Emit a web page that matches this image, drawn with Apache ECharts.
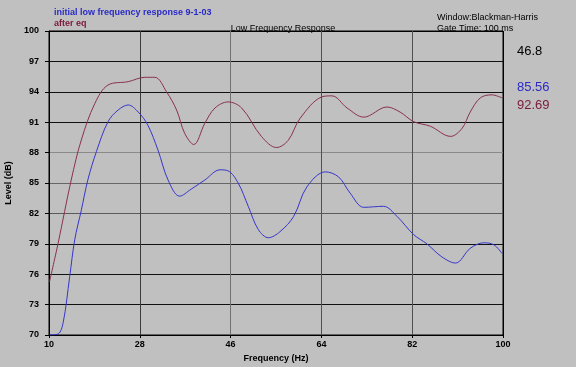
<!DOCTYPE html>
<html><head><meta charset="utf-8">
<script src="https://cdn.jsdelivr.net/npm/echarts@6/dist/echarts.min.js"></script>
<style>html,body{margin:0;padding:0;background:#c0c0c0;}#c{width:576px;height:367px;}</style>
</head><body><div id="c"></div>
<script>
// Frequencies (Hz) and levels (dB)
const freqInitial = [10.1,11.8,12.8,14.1,15.1,16.4,17.7,19.4,21.7,23.7,25.7,27.7,29.6,31.6,33.6,35.9,38.2,40.9,43.9,45.5,47.5,49.5,51.5,53.5,55.8,58.5,61.1,64.8,67.4,69.7,72.4,76.3,79,82.3,84.9,87.9,90.6,93.5,96.2,98.2,99.8];
const levelInitial = [70,70.1,71.2,75.75,79.4,82.3,85.3,88.1,91.05,92.2,92.7,92.0,90.7,88.25,85.3,83.7,84.4,85.3,86.3,86.2,85.0,82.7,80.4,79.6,80.2,81.7,84.6,86.1,85.6,84.0,82.6,82.7,81.7,79.9,79.0,77.7,77.1,78.55,79.1,78.9,78.05];
const freqEq = [10.1,11.8,14.4,16.4,19.1,21.7,25.7,29,31,33.3,35.3,36.9,38.7,40.9,42.9,45.5,48.2,52.1,55.1,57.4,59.8,64.1,66.1,69.1,72.4,77,79.6,82.3,85.6,89.6,91.9,93.5,95.5,97.8,99.8];
const levelEq = [75.25,79.04,85.29,89.24,92.86,94.67,95.0,95.43,95.43,94.0,92.2,89.9,88.8,90.9,92.4,93.0,92.4,89.6,88.5,89.2,91.4,93.5,93.6,92.4,91.5,92.5,92.0,91.05,90.6,89.6,90.4,92.0,93.4,93.7,93.4];
const xTicks = [10,28,46,64,82,100];
const yTicks = [70,73,76,79,82,85,88,91,94,97,100];
const seriesNames = ['initial low frequency response 9-1-03','after eq'];
const readouts = ['46.8','85.56','92.69'];

const X0 = xTicks[0];
const pairs = (f, l) => f.map((v, i) => [v - X0, l[i]]);
const font = 'Arial, "Liberation Sans", sans-serif';
const chart = echarts.init(document.getElementById('c'));
chart.setOption({
  backgroundColor: '#c0c0c0',
  animation: false,
  grid: {left: 49, right: 73, top: 31, bottom: 32, outerBoundsMode: 'none', containLabel: false, show: true, borderColor: '#000', borderWidth: 1, backgroundColor: '#c0c0c0'},
  title: [
    {text: seriesNames[0], left: 49, top: 3, textStyle: {fontFamily: font, fontSize: 9, fontWeight: 'bold', color: '#2a2ac8'}},
    {text: seriesNames[1], left: 49, top: 14, textStyle: {fontFamily: font, fontSize: 9, fontWeight: 'bold', color: '#7a1a3a'}},
    {text: 'Low Frequency Response', left: 278, top: 19, textAlign: 'center', textStyle: {fontFamily: font, fontSize: 9, fontWeight: 'normal', color: '#000'}},
    {text: 'Window:Blackman-Harris', left: 432, top: 8, textStyle: {fontFamily: font, fontSize: 9, fontWeight: 'normal', color: '#000'}},
    {text: 'Gate Time: 100 ms', left: 432, top: 19, textStyle: {fontFamily: font, fontSize: 9, fontWeight: 'normal', color: '#000'}},
    {text: readouts[0], left: 512, top: 40, textStyle: {fontFamily: font, fontSize: 13, fontWeight: 'normal', color: '#000'}},
    {text: readouts[1], left: 512, top: 76, textStyle: {fontFamily: font, fontSize: 13, fontWeight: 'normal', color: '#2a2ac8'}},
    {text: readouts[2], left: 512, top: 94, textStyle: {fontFamily: font, fontSize: 13, fontWeight: 'normal', color: '#7a1a3a'}}
  ],
  xAxis: {
    type: 'value', min: 0, max: xTicks[xTicks.length-1] - X0, interval: xTicks[1] - xTicks[0],
    name: 'Frequency (Hz)', nameLocation: 'middle', nameGap: 17,
    nameTextStyle: {fontFamily: font, fontSize: 9, fontWeight: 'bold', color: '#000'},
    axisLine: {lineStyle: {color: '#000'}},
    axisTick: {show: true, inside: false, length: 3, lineStyle: {color: '#000'}},
    axisLabel: {formatter: v => String(v + X0), fontFamily: font, fontSize: 9, fontWeight: 'bold', color: '#000', margin: 5},
    splitLine: {show: true, lineStyle: {color: ['#000','#3a3a3a','#707070','#505050','#505050','#000'], width: 1}}
  },
  yAxis: {
    type: 'value', min: yTicks[0], max: yTicks[yTicks.length-1], interval: 3,
    name: 'Level (dB)', nameLocation: 'middle', nameGap: 31, nameRotate: 90,
    nameTextStyle: {fontFamily: font, fontSize: 9, fontWeight: 'bold', color: '#000'},
    axisLine: {lineStyle: {color: '#000'}},
    axisTick: {show: true, inside: false, length: 4, lineStyle: {color: '#000'}},
    axisLabel: {fontFamily: font, fontSize: 9, fontWeight: 'bold', color: '#000', margin: 10},
    splitLine: {show: true, lineStyle: {color: ['#000','#111','#111','#111','#5a5a5a','#666','#8a8a8a','#111','#111','#111','#000'], width: 1}}
  },
  series: [
    {name: seriesNames[0], type: 'line', data: pairs(freqInitial, levelInitial), smooth: 0.35, showSymbol: false, lineStyle: {color: '#3535cc', width: 1}},
    {name: seriesNames[1], type: 'line', data: pairs(freqEq, levelEq), smooth: 0.35, showSymbol: false, lineStyle: {color: '#8a3050', width: 1}}
  ]
});
</script></body></html>
